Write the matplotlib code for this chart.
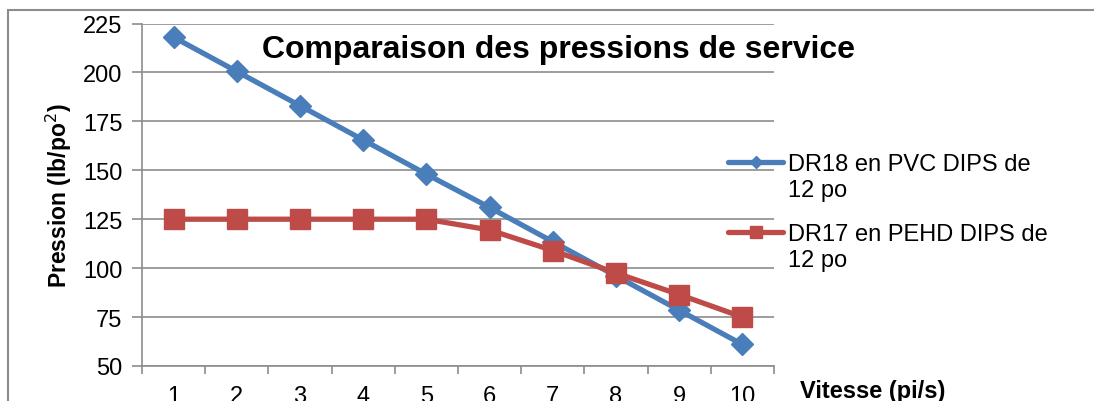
import matplotlib
matplotlib.use("Agg")
import matplotlib.pyplot as plt
from matplotlib.lines import Line2D
import numpy as np

plt.rcParams['font.family'] = ['Liberation Sans', 'DejaVu Sans']

vitesse = [1, 2, 3, 4, 5, 6, 7, 8, 9, 10]
pvc_dr18 = [218, 200.5, 183, 165.5, 148, 131, 113.5, 96, 78.5, 61]
pehd_dr17 = [125, 125, 125, 125, 125, 119.5, 109, 97.5, 86.5, 75]
y_ticks = [50, 75, 100, 125, 150, 175, 200, 225]
series_names = ['DR18 en PVC DIPS de', 'DR17 en PEHD DIPS de']

blue = '#4a7ebb'
red = '#be4b48'
grid_gray = '#8c8c8c'

fig = plt.figure(figsize=(10.94, 4.02), dpi=100)
ax = fig.add_axes([142/1094, 1 - 367/402, (774-142)/1094, (367-24.5)/402])

x = np.arange(len(vitesse))
ax.plot(x, pvc_dr18, color=blue, lw=3.8, marker='D', ms=11, mec=blue, mfc=blue,
        zorder=3)
ax.plot(x, pehd_dr17, color=red, lw=3.8, marker='s', ms=14, mec=red, mfc=red,
        zorder=3)

ax.set_xlim(-0.5, len(vitesse) - 0.5)
ax.set_ylim(50, 225)
ax.set_yticks(y_ticks)
ax.yaxis.grid(True, color=grid_gray, lw=1.2)
ax.set_axisbelow(True)
ax.set_xticks(x)
ax.set_xticklabels([str(v) for v in vitesse])
ax.set_xticks(np.arange(-0.5, len(vitesse)), minor=True)
ax.tick_params(axis='x', which='major', length=0, pad=14, labelsize=17)
ax.tick_params(axis='x', which='minor', length=6, color=grid_gray, width=1.2)
ax.tick_params(axis='y', length=7, color=grid_gray, width=1.2, labelsize=17, pad=7)
for s in ['top', 'right']:
    ax.spines[s].set_visible(False)
for s in ['left', 'bottom']:
    ax.spines[s].set_color(grid_gray)
    ax.spines[s].set_linewidth(1.2)

ax.set_ylabel('Pression (lb/po$^2$)', fontsize=16.5, fontweight='bold')
ax.yaxis.set_label_coords(-0.108, 0.5)
fig.text(558/1094, 1 - 50/402, 'Comparaison des pressions de service',
         fontsize=23, fontweight='bold', ha='center', va='center')
fig.text(800/1094, 1 - 380/402, 'Vitesse (pi/s)', fontsize=17,
         fontweight='bold', ha='left', va='top')

# legend, Excel style: key next to the first line of a wrapped label
legend_rows = [(163, blue, 'D', 6), (233, red, 's', 9)]
for (yy, col, mk, msz), name in zip(legend_rows, series_names):
    yf = 1 - yy/402
    fig.add_artist(Line2D([728/1094, 783/1094], [yf, yf], color=col, lw=3.8,
                          solid_capstyle='round', transform=fig.transFigure))
    fig.add_artist(Line2D([756/1094], [yf], color=col, marker=mk, ms=msz,
                          transform=fig.transFigure))
    fig.text(788/1094, yf + 9/402, name + '\n12 po', fontsize=17, ha='left',
             va='top', linespacing=1.25)

# outer chart border
fig.patches.append(plt.Rectangle((8/1094, -0.1), 1.2, 1 - 11/402 + 0.1,
                                 transform=fig.transFigure, fill=False,
                                 ec='#8c8c8c', lw=1.5))

fig.savefig('out.png', dpi=100)
